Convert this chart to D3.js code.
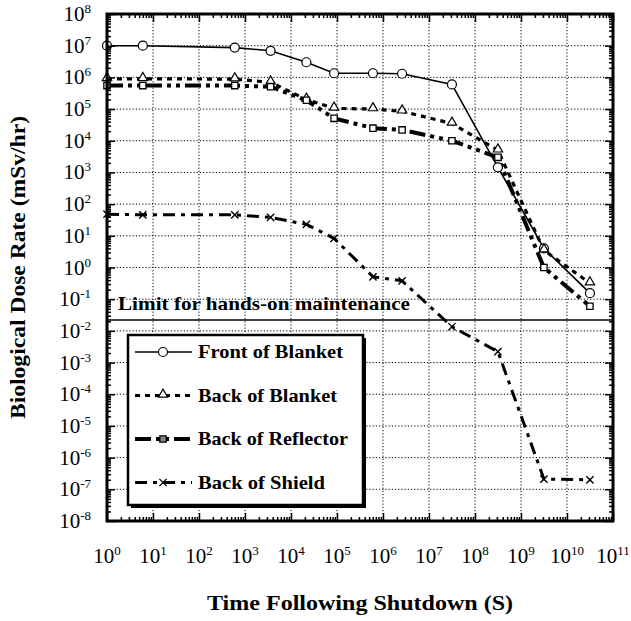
<!DOCTYPE html>
<meta charset="utf-8">
<style>
  body { margin: 0; background: #fff; }
  svg text { font-family: "Liberation Serif", "Times New Roman", serif; fill: #000; }
</style>
<svg id="chart" width="631" height="621"></svg>
<script src="https://cdn.jsdelivr.net/npm/d3@7"></script>
<script>
// time after shutdown, seconds
var times = [1, 6, 600, 3600, 21600, 86400, 604800, 2.6e6, 3.15e7, 3.15e8, 3.15e9, 3.15e10];

// dose rates, mSv/hr
var frontBlanket = [1.0e7, 1.0e7, 8.7e6, 6.9e6, 3.0e6, 1.35e6, 1.35e6, 1.3e6, 6.0e5, 1.45e3, 4.0, 0.155];
var backBlanket = [9.0e5, 9.0e5, 8.8e5, 7.0e5, 2.0e5, 1.05e5, 1.0e5, 8.5e4, 3.5e4, 5.0e3, 3.5, 0.32];
var backReflector = [5.5e5, 5.5e5, 5.5e5, 5.1e5, 1.9e5, 5.1e4, 2.5e4, 2.2e4, 1.0e4, 3.0e3, 1.0, 0.06];
var backShield = [48, 46, 46, 38, 23, 8.3, 0.51, 0.38, 0.0135, 0.0022, 2.1e-7, 2.0e-7];

var limitValue = 0.022;
var limitLabel = "Limit for hands-on maintenance";

var xExponents = d3.range(0, 12);   // 10^0 .. 10^11
var yExponents = d3.range(-8, 9);   // 10^-8 .. 10^8

var margin = {top: 14, right: 18, bottom: 100, left: 107};
var width = 631 - margin.left - margin.right;
var height = 621 - margin.top - margin.bottom;

var svg = d3.select("#chart");
var g = svg.append("g").attr("transform", "translate(" + margin.left + "," + margin.top + ")");

var x = d3.scaleLog().domain([1, 1e11]).range([0, width]);
var y = d3.scaleLog().domain([1e-8, 1e8]).range([height, 0]);

var xMajor = xExponents.map(e => Math.pow(10, e));
var yMajor = yExponents.map(e => Math.pow(10, e));
var xMinor = [], yMinor = [];
xExponents.slice(0, -1).forEach(e => { for (var m = 2; m < 10; m++) xMinor.push(m * Math.pow(10, e)); });
yExponents.slice(0, -1).forEach(e => { for (var m = 2; m < 10; m++) yMinor.push(m * Math.pow(10, e)); });

// dotted grid
g.append("g").selectAll("line").data(xMajor.slice(1, -1)).join("line")
    .attr("x1", d => x(d)).attr("x2", d => x(d)).attr("y1", 0).attr("y2", height)
    .attr("stroke", "#000").attr("stroke-width", 1).attr("stroke-dasharray", "1.2,2");
g.append("g").selectAll("line").data(yMajor.slice(1, -1)).join("line")
    .attr("y1", d => y(d)).attr("y2", d => y(d)).attr("x1", 0).attr("x2", width)
    .attr("stroke", "#000").attr("stroke-width", 1).attr("stroke-dasharray", "1.2,2");

// limit line
g.append("line")
    .attr("x1", 0).attr("x2", width).attr("y1", y(limitValue)).attr("y2", y(limitValue))
    .attr("stroke", "#000").attr("stroke-width", 1.5);

var series = [
    {name: "Front of Blanket", values: frontBlanket, width: 1.6, dash: null, marker: "circle", len: 145},
    {name: "Back of Blanket", values: backBlanket, width: 3.2, dash: "5,5", marker: "triangle", len: 139},
    {name: "Back of Reflector", values: backReflector, width: 4, dash: "16,5,4,5,4,5", marker: "square", len: 150},
    {name: "Back of Shield", values: backShield, width: 3, dash: "12,6,4,6", marker: "x", len: 127}
];

var line = d3.line().x(d => x(d[0])).y(d => y(d[1]));

series.forEach(s => {
    var pts = times.map((t, i) => [t, s.values[i]]);
    g.append("path").datum(pts)
        .attr("d", line)
        .attr("fill", "none").attr("stroke", "#000")
        .attr("stroke-width", s.width)
        .attr("stroke-dasharray", s.dash);
});

function drawMarker(sel, type, legend) {
    if (type == "circle") {
        sel.append("circle").attr("r", 4.5).attr("fill", "#fff").attr("stroke", "#000").attr("stroke-width", 1.2);
    } else if (type == "triangle") {
        sel.append("path").attr("d", d3.symbol(d3.symbolTriangle, 38)).attr("transform", "translate(0,-1)")
            .attr("fill", "#fff").attr("stroke", "#000").attr("stroke-width", 1.2);
    } else if (type == "square") {
        sel.append("path").attr("d", d3.symbol(d3.symbolSquare, 40))
            .attr("fill", legend ? "#888" : "#fff").attr("stroke", "#000").attr("stroke-width", 1.3);
    } else {
        sel.append("path").attr("d", d3.symbol(d3.symbolX, 36))
            .attr("fill", "none").attr("stroke", "#000").attr("stroke-width", 1.4);
    }
}

series.forEach(s => {
    var pts = times.map((t, i) => [t, s.values[i]]);
    g.append("g").selectAll("g").data(pts).join("g")
        .attr("transform", d => "translate(" + x(d[0]) + "," + y(d[1]) + ")")
        .each(function() { drawMarker(d3.select(this), s.marker, false); });
});

// limit label
g.append("text")
    .attr("x", 11).attr("y", y(limitValue) - 10)
    .attr("font-size", 19).attr("font-weight", "bold")
    .attr("textLength", 292).attr("lengthAdjust", "spacingAndGlyphs")
    .text(limitLabel);

// legend
var legend = svg.append("g").attr("transform", "translate(128,335)");
legend.append("rect").attr("x", 3).attr("y", 3).attr("width", 235).attr("height", 170).attr("fill", "#000");
legend.append("rect").attr("width", 235).attr("height", 170).attr("fill", "#fff")
    .attr("stroke", "#000").attr("stroke-width", 2.5);
series.forEach((s, i) => {
    var row = legend.append("g").attr("transform", "translate(0," + (17 + i * 43.5) + ")");
    row.append("line").attr("x1", 7).attr("x2", 64).attr("y1", 0).attr("y2", 0)
        .attr("stroke", "#000").attr("stroke-width", s.width).attr("stroke-dasharray", s.dash);
    var m = row.append("g").attr("transform", "translate(35,0)");
    drawMarker(m, s.marker, true);
    row.append("text").attr("x", 70).attr("y", 6)
        .attr("font-size", 19).attr("font-weight", "bold")
        .attr("textLength", s.len).attr("lengthAdjust", "spacingAndGlyphs")
        .text(s.name);
});

// frame
g.append("rect").attr("width", width).attr("height", height)
    .attr("fill", "none").attr("stroke", "#000").attr("stroke-width", 3);

// inward ticks on all four sides
function ticks(axis, vals, size, tr) {
    var a = g.append("g").attr("transform", tr)
        .call(axis.tickValues(vals).tickSize(-size).tickFormat(""));
    a.select(".domain").remove();
    a.selectAll(".tick line").attr("stroke-width", 1.5);
}
ticks(d3.axisBottom(x), xMajor, 8, "translate(0," + height + ")");
ticks(d3.axisBottom(x), xMinor, 4, "translate(0," + height + ")");
ticks(d3.axisTop(x), xMajor, 8, "translate(0,0)");
ticks(d3.axisTop(x), xMinor, 4, "translate(0,0)");
ticks(d3.axisLeft(y), yMajor, 8, "translate(0,0)");
ticks(d3.axisLeft(y), yMinor, 4, "translate(0,0)");
ticks(d3.axisRight(y), yMajor, 8, "translate(" + width + ",0)");
ticks(d3.axisRight(y), yMinor, 4, "translate(" + width + ",0)");

// power-of-ten labels
function powLabel(sel, e) {
    sel.append("tspan").text("10");
    sel.append("tspan").attr("dy", -8).attr("font-size", 13).text(e);
}
g.append("g").selectAll("text").data(xExponents).join("text")
    .attr("x", e => x(Math.pow(10, e))).attr("y", height + 42)
    .attr("text-anchor", "middle").attr("font-size", 21)
    .each(function(e) { powLabel(d3.select(this), e); });
g.append("g").selectAll("text").data(yExponents).join("text")
    .attr("x", -16).attr("y", e => y(Math.pow(10, e)) + 7)
    .attr("text-anchor", "end").attr("font-size", 21)
    .each(function(e) { powLabel(d3.select(this), e); });

// axis titles
svg.append("text")
    .attr("x", margin.left + width / 2).attr("y", 610)
    .attr("text-anchor", "middle").attr("font-size", 21).attr("font-weight", "bold")
    .attr("textLength", 306).attr("lengthAdjust", "spacingAndGlyphs")
    .text("Time Following Shutdown (S)");
svg.append("text")
    .attr("transform", "translate(25," + (margin.top + height / 2) + ") rotate(-90)")
    .attr("text-anchor", "middle").attr("font-size", 21).attr("font-weight", "bold")
    .attr("textLength", 303).attr("lengthAdjust", "spacingAndGlyphs")
    .text("Biological Dose Rate (mSv/hr)");
</script>
